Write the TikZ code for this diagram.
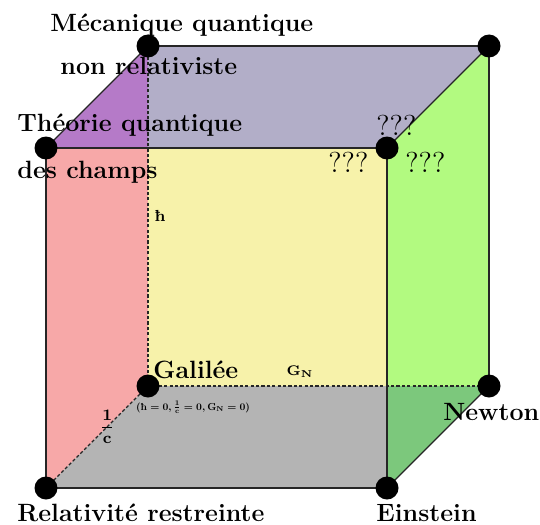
\documentclass[tikz,border=0pt]{standalone}
\usepackage{amsmath,amssymb}
\usepackage{xcolor}
\usepackage{tikz}
\definecolor{faceRed}{RGB}{247,168,168}
\definecolor{facePurple}{RGB}{181,122,200}
\definecolor{faceLav}{RGB}{178,174,200}
\definecolor{faceYel}{RGB}{247,242,170}
\definecolor{faceGreen}{RGB}{178,250,128}
\definecolor{faceDkGreen}{RGB}{124,200,124}
\definecolor{faceGrey}{RGB}{180,180,180}
\newcommand{\hbarb}{\text{\bfseries ħ}}

\begin{document}
\begin{tikzpicture}[
x=0.5pt,y=-0.5pt,
dot/.style={circle,fill=black,inner sep=0pt,minimum size=11.5pt},
edge/.style={line width=0.6pt,draw=black!85},
hidden/.style={line width=0.6pt,draw=black!85,dash pattern=on 1.6pt off 1.1pt},
lab/.style={font=\fontsize{12.5}{15}\selectfont\bfseries,inner sep=0pt},
qq/.style={font=\Large,inner sep=0pt},
small/.style={font=\footnotesize\boldmath,inner sep=1pt}
]
\useasboundingbox (0,0) rectangle (540,524);
% vertices of the cube
\coordinate (rel) at (46,488);
\coordinate (ein) at (387,488);
\coordinate (tqc) at (46,148);
\coordinate (inc) at (387,148);
\coordinate (gal) at (148,386);
\coordinate (new) at (489,386);
\coordinate (mqn) at (148,46);
\coordinate (bkr) at (489,46);
\coordinate (mid) at (148,148);
\coordinate (low) at (387,386);
% faces
\fill[faceRed] (tqc)--(mid)--(gal)--(rel)--cycle;
\fill[facePurple] (tqc)--(mqn)--(mid)--cycle;
\fill[faceLav] (mqn)--(bkr)--(inc)--(mid)--cycle;
\fill[faceYel] (mid)--(inc)--(low)--(gal)--cycle;
\fill[faceGreen] (inc)--(bkr)--(new)--(low)--cycle;
\fill[faceDkGreen] (low)--(new)--(ein)--cycle;
\fill[faceGrey] (rel)--(gal)--(low)--(ein)--cycle;
% edges
\draw[edge] (tqc)--(inc)--(ein)--(rel)--cycle;
\draw[edge] (mqn)--(bkr)--(new);
\draw[edge] (tqc)--(mqn);
\draw[edge] (inc)--(bkr);
\draw[edge] (ein)--(new);
\draw[hidden] (mqn)--(gal) node[small,pos=0.5,anchor=west,xshift=2pt] (hb) {$\hbarb$};
\draw[hidden] (gal)--(new) node[font=\scriptsize\boldmath,inner sep=1pt,pos=0.446,anchor=south,yshift=3pt] (gn) {$\mathbf{G}_{\mathbf{N}}$};
\draw[hidden] (rel)--(gal) node[small,pos=0.6,inner sep=0pt] (ic) {$\dfrac{\mathbf{1}}{\mathbf{c}}$};
% dots
\foreach \v in {rel,ein,tqc,inc,gal,new,mqn,bkr}
  \node[dot] at (\v) {};
% labels
\node[lab,anchor=base west] (lmq) at (50,32) {Mécanique quantique};
\node[lab,anchor=base west] (lnr) at (60,75) {non relativiste};
\node[lab,anchor=base west] (ltq) at (17,132) {Théorie quantique};
\node[lab,anchor=base west] (ldc) at (17,178) {des champs};
\node[lab,anchor=base west] (lga) at (153,378) {Galilée};
\node[font=\boldmath,anchor=base,inner sep=0pt] (lzero) at (193,410) {\resizebox{57pt}{!}{$(\hbarb=\mathbf{0},\tfrac{\mathbf{1}}{\mathbf{c}}=\mathbf{0},\mathbf{G}_{\mathbf{N}}=\mathbf{0})$}};
\node[lab,anchor=base west] (lne) at (443,420) {Newton};
\node[lab,anchor=base west] (lre) at (17,521) {Relativité restreinte};
\node[lab,anchor=base west] (lei) at (376,521) {Einstein};
\node[qq,anchor=base west] (q1) at (376,135) {???};
\node[qq,anchor=base west] (q2) at (328,172) {???};
\node[qq,anchor=base west] (q3) at (405,172) {???};
\end{tikzpicture}
\end{document}
